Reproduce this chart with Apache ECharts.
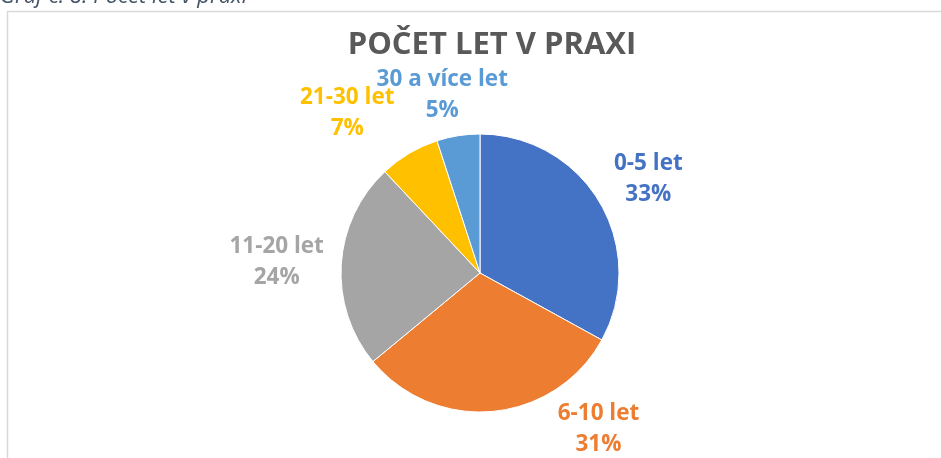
<!DOCTYPE html>
<html>
<head>
<meta charset="utf-8">
<script src="https://cdn.jsdelivr.net/npm/echarts@6/dist/echarts.min.js"></script>
<style>
  html, body { margin: 0; padding: 0; background: #fff; }
  #chart { width: 941px; height: 458px; }
</style>
</head>
<body>
<div id="chart"></div>
<script>
// data
var categories = ['0-5 let', '6-10 let', '11-20 let', '21-30 let', '30 a více let']
var shares = [33, 31, 24, 7, 5]
var colors = ['#4472C4', '#ED7D31', '#A5A5A5', '#FFC000', '#5B9BD5']

// where Excel put each data label (best fit), as share of the canvas
var labelSpots = [
  ['68.9%', '39.1%'],
  ['63.6%', '93.6%'],
  ['29.4%', '57.3%'],
  ['36.9%', '24.8%'],
  ['47.0%', '20.8%']
]

var chart = echarts.init(document.getElementById('chart'))

chart.setOption({
  animation: false,
  graphic: [
    {
      type: 'text',
      left: 0,
      top: -14,
      style: {
        text: 'Graf č. 8: Počet let v praxi',
        font: 'italic 22px "Open Sans"',
        fill: '#44546A'
      }
    },
    {
      type: 'rect',
      shape: { x: 7.5, y: 11.5, width: 960, height: 480 },
      style: { fill: 'none', stroke: '#D9D9D9', lineWidth: 1.5 },
      silent: true
    }
  ],
  title: {
    text: 'POČET LET V PRAXI',
    left: 487,
    textAlign: 'center',
    top: 25,
    textStyle: {
      fontFamily: 'Open Sans',
      fontSize: 31,
      fontWeight: 'bold',
      color: '#595959'
    }
  },
  series: [
    {
      type: 'pie',
      center: [480, 273],
      radius: 139,
      startAngle: 90,
      clockwise: true,
      itemStyle: {
        borderColor: '#fff',
        borderWidth: 1
      },
      label: {
        show: true,
        position: 'outside',
        formatter: function (p) {
          return p.name + '\n' + p.value + '%'
        },
        fontFamily: 'Open Sans',
        fontSize: 22.5,
        fontWeight: 'bold',
        lineHeight: 31,
        align: 'center'
      },
      labelLine: { show: false },
      labelLayout: function (params) {
        var spot = labelSpots[params.dataIndex]
        return {
          x: spot[0],
          y: spot[1],
          align: 'center',
          verticalAlign: 'middle'
        }
      },
      data: categories.map(function (name, i) {
        return {
          name: name,
          value: shares[i],
          itemStyle: { color: colors[i] },
          label: { color: colors[i] }
        }
      })
    }
  ]
})
</script>
</body>
</html>
